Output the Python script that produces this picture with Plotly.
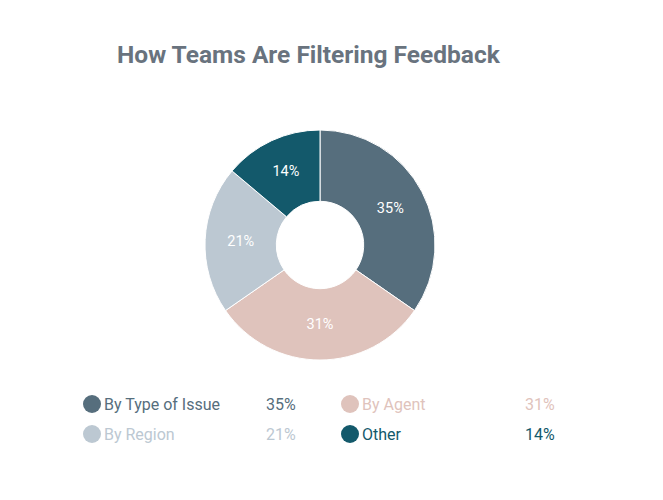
import plotly.graph_objects as go

# chart data
categories = ["By Type of Issue", "By Agent", "By Region", "Other"]
shares = [35, 31, 21, 14]
slice_colors = ["#566e7d", "#dfc3bc", "#bcc8d2", "#13596b"]

# page has an 8px body margin, so the figure is a bit smaller than the window
OFF = 8
W, H = 663 - 2 * OFF, 500 - 2 * OFF


def px_x(x):
    return (x - OFF) / W


def px_y(y):
    return 1 - (y - OFF) / H


fig = go.Figure()

fig.add_trace(go.Pie(
    labels=categories,
    values=shares,
    hole=0.38,
    sort=False,
    direction="clockwise",
    rotation=0,
    marker=dict(colors=slice_colors, line=dict(color="white", width=1)),
    texttemplate="%{value}%",
    textposition="inside",
    insidetextorientation="horizontal",
    textfont=dict(family="Roboto", size=14.5, color="white"),
    showlegend=False,
    domain=dict(x=[px_x(205), px_x(435)], y=[px_y(360), px_y(130)]),
))

# custom legend: two columns, two rows
legend_cols = [92, 350]
legend_rows = [404, 434]
pct_right = [298, 557]
annotations = []
shapes = []
for i, (name, val, col) in enumerate(zip(categories, shares, slice_colors)):
    c = i % 2
    r = i // 2
    cx, cy = legend_cols[c], legend_rows[r]
    shapes.append(dict(
        type="circle", xref="paper", yref="paper",
        xsizemode="pixel", ysizemode="pixel",
        xanchor=px_x(cx), yanchor=px_y(cy),
        x0=-9, x1=9, y0=-9, y1=9,
        fillcolor=col, line=dict(width=0),
    ))
    annotations.append(dict(
        x=px_x(cx + 10), y=px_y(cy), xref="paper", yref="paper",
        text=name, showarrow=False, xanchor="left", yanchor="middle",
        font=dict(family="Roboto", size=16, color=col),
    ))
    annotations.append(dict(
        x=px_x(pct_right[c]), y=px_y(cy), xref="paper", yref="paper",
        text=f"{val}%", showarrow=False, xanchor="right", yanchor="middle",
        font=dict(family="Roboto", size=16, color=col),
    ))

annotations.append(dict(
    x=px_x(309), y=px_y(55), xref="paper", yref="paper",
    text="<b>How Teams Are Filtering Feedback</b>", showarrow=False,
    xanchor="center", yanchor="middle",
    font=dict(family="Roboto", size=24.5, color="#69737e"),
))

fig.update_layout(
    width=W, height=H,
    margin=dict(l=0, r=0, t=0, b=0),
    paper_bgcolor="white",
    plot_bgcolor="white",
    annotations=annotations,
    shapes=shapes,
)

fig.write_html("out.html")
